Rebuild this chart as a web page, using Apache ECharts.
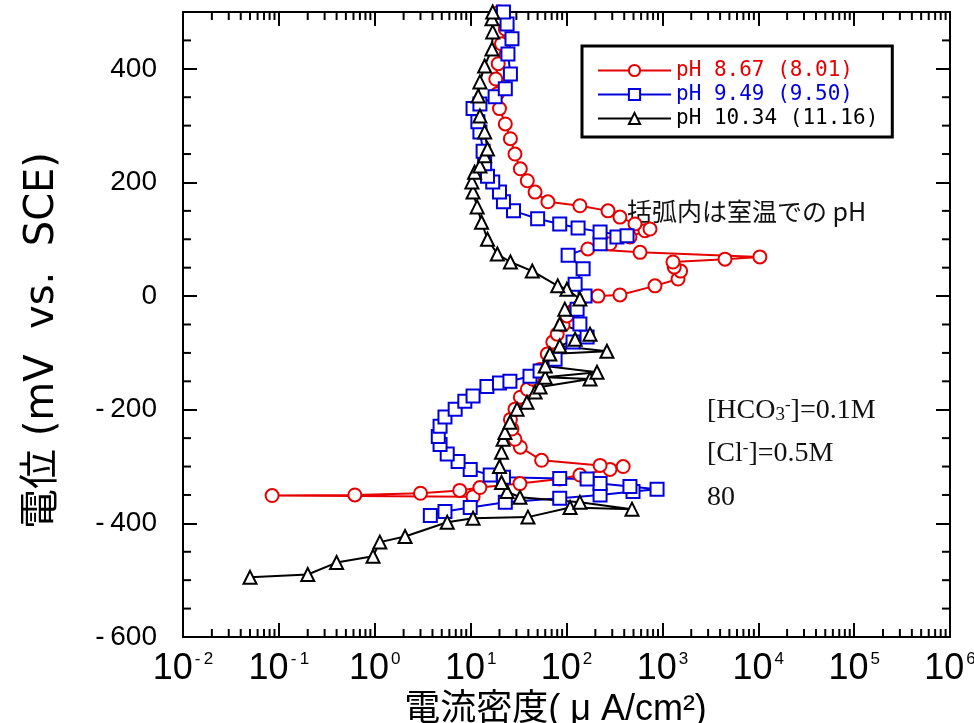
<!DOCTYPE html>
<html>
<head>
<meta charset="utf-8">
<script src="https://cdn.jsdelivr.net/npm/echarts@6/dist/echarts.min.js"></script>
<style>
    html, body { margin: 0; padding: 0; background: #fff; }
    #chart { width: 974px; height: 723px; }
</style>
</head>
<body>
<div id="chart"></div>
<script>
// 電流密度 (μA/cm2), 電位 (mV vs. SCE) — 各曲線は掃引順
var redPoints = [
    [10.6, -353], [0.085, -351], [0.62, -350], [3, -347], [7.7, -342], [12.5, -337], [32.7, -330],
    [85, -322], [138, -315], [284, -305], [390, -300], [224, -298], [55, -289], [33, -266],
    [29, -252], [27, -234], [26, -217], [29, -199], [33, -178], [39, -164], [44, -146], [53, -129],
    [63, -102], [72, -81], [80, -67], [92, -51], [101, -35], [123, -23], [213, 0], [361, 2],
    [837, 18], [1456, 30], [1550, 44], [1330, 51], [1290, 60], [4500, 65], [10400, 69], [585, 77],
    [167, 83], [284, 92], [459, 104], [659, 115], [743, 118], [518, 127], [361, 139], [271, 150],
    [138, 159], [64, 166], [47, 183], [39, 203], [33, 224], [29, 250], [26, 277], [23, 303],
    [20, 330], [19, 356], [18.3, 382], [19.4, 409], [21, 444], [23, 470], [21, 488], [20, 500]
];
var bluePoints = [
    [3.8, -386], [5.4, -379], [9.9, -372], [23, -363], [85, -356], [224, -350], [494, -344],
    [880, -340], [459, -335], [224, -330], [164, -322], [85, -321], [22, -319], [16, -315],
    [9.9, -305], [7.4, -291], [5.7, -278], [4.8, -261], [4.6, -247], [4.8, -229], [5.4, -213],
    [6.9, -199], [8.7, -185], [10.6, -176], [14.8, -159], [20, -153], [25.7, -150], [41.6, -141],
    [53, -132], [76, -111], [117, -81], [164, -72], [138, -49], [129, -23], [156, 0], [123, 21],
    [149, 48], [104, 72], [224, 92], [336, 104], [428, 106], [224, 113], [132, 120], [85, 127],
    [50, 136], [28, 150], [22, 166], [20, 183], [17, 201], [15, 211], [14, 233], [13.5, 255],
    [12.5, 289], [11.9, 307], [10.6, 330], [12.5, 338], [18, 351], [23, 365], [26, 391],
    [24.5, 426], [27, 453], [24, 479], [22, 500]
];
var blackPoints = [
    [0.05, -495], [0.2, -490], [0.4, -469], [0.96, -458], [1.13, -433], [2.07, -423], [5.7, -398],
    [10.6, -391], [39.6, -389], [109, -372], [482, -375], [138, -363], [32.7, -354], [24, -344],
    [21, -328], [20, -300], [21, -275], [21.8, -252], [22.8, -240], [25.7, -222], [30.5, -199],
    [38.7, -187], [47, -169], [53, -160], [176, -146], [60, -143], [208, -134], [60, -123],
    [67, -102], [264, -97], [85, -88], [123, -76], [176, -67], [85, -49], [96, -23], [138, -5],
    [101, 12], [81, 18], [44, 44], [26, 60], [19, 74], [15, 100], [13, 130], [11.7, 157],
    [10.6, 183], [10.3, 201], [11, 218], [12.5, 229], [14, 247], [15, 259], [14, 289],
    [12.5, 317], [12, 352], [12.5, 377], [14, 405], [16.7, 435], [17, 465], [16.7, 488], [17, 500]
];
var seriesNames = ['pH 8.67 (8.01)', 'pH 9.49 (9.50)', 'pH 10.34 (11.16)'];
var seriesColors = ['#e60000', '#0000dd', '#000000'];
var seriesSymbols = ['emptyCircle', 'emptyRect', 'emptyTriangle'];

var xMin = 0.01, xMax = 1e6, yMin = -600, yMax = 500;

// 対数軸の副目盛 (2..9) と電位軸の 50 mV 目盛
var minorTicks = [];
for (var e = -2; e < 6; e++) {
    for (var k = 2; k < 10; k++) minorTicks.push([k * Math.pow(10, e), yMin, 0]);
}
for (var v = -550; v < yMax; v += 50) {
    if (v % 200 !== 0) minorTicks.push([xMin, v, 1]);
}

var myChart = echarts.init(document.getElementById('chart'));

function supLabel(value) {
    var p = Math.round(Math.log10(value));
    var s = p < 0 ? '-\u2009' + (-p) : '' + p;
    return '{b|10}{s|' + s + '}';
}

var curveSeries = [redPoints, bluePoints, blackPoints].map(function (pts, i) {
    return {
        name: seriesNames[i],
        type: 'line',
        xAxisIndex: 0,
        yAxisIndex: 0,
        data: pts,
        symbol: seriesSymbols[i],
        symbolSize: 13,
        showAllSymbol: true,
        color: seriesColors[i],
        lineStyle: { width: 2, color: seriesColors[i] },
        itemStyle: { color: seriesColors[i], borderWidth: 2 },
        emphasis: { disabled: true },
        animation: false
    };
});

var tickSeries = {
    type: 'custom',
    silent: true,
    data: minorTicks,
    renderItem: function (params, api) {
        var kind = api.value(2);
        var len = 8;
        var st = { stroke: '#000', lineWidth: 2 };
        if (kind === 0) {
            var x = api.value(0);
            var b = api.coord([x, yMin]);
            var t = api.coord([x, yMax]);
            return { type: 'group', children: [
                { type: 'line', shape: { x1: b[0], y1: b[1], x2: b[0], y2: b[1] - len }, style: st },
                { type: 'line', shape: { x1: t[0], y1: t[1], x2: t[0], y2: t[1] + len }, style: st }
            ] };
        }
        var y = api.value(1);
        var l = api.coord([xMin, y]);
        var r = api.coord([xMax, y]);
        return { type: 'group', children: [
            { type: 'line', shape: { x1: l[0], y1: l[1], x2: l[0] + len, y2: l[1] }, style: st },
            { type: 'line', shape: { x1: r[0], y1: r[1], x2: r[0] - len, y2: r[1] }, style: st }
        ] };
    },
    animation: false
};

var axisLine = { show: true, onZero: false, lineStyle: { color: '#000', width: 2 } };
var majorTick = { inside: true, length: 14, lineStyle: { color: '#000', width: 2 } };

var option = {
    backgroundColor: '#fff',
    animation: false,
    grid: { left: 183, right: 24, top: 12, bottom: 86, outerBoundsMode: 'none' },
    legend: {
        orient: 'vertical',
        left: 582, top: 46,
        padding: [14, 14, 8, 15],
        itemGap: 3,
        itemWidth: 73,
        itemHeight: 14,
        backgroundColor: '#fff',
        borderColor: '#000',
        borderWidth: 3,
        borderRadius: 0,
        selectedMode: false,
        textStyle: { fontFamily: 'DejaVu Sans Mono', fontSize: 21, lineHeight: 21 },
        data: seriesNames.map(function (n, i) {
            return { name: n, textStyle: { color: seriesColors[i] } };
        })
    },
    xAxis: [{
        type: 'log', logBase: 10, min: xMin, max: xMax, splitNumber: 8,
        position: 'bottom',
        axisLine: axisLine,
        axisTick: majorTick,
        splitLine: { show: false },
        axisLabel: {
            margin: 14, color: '#000', formatter: supLabel,
            rich: {
                b: { fontFamily: 'Liberation Sans', fontSize: 36, color: '#000' },
                s: { fontFamily: 'Liberation Sans', fontSize: 17, color: '#000', verticalAlign: 'top', padding: [0, 0, 0, 2] }
            }
        },
        name: '電流密度( μ A/cm²)',
        nameLocation: 'middle', nameGap: 34,
        nameTextStyle: { fontFamily: 'Liberation Sans, Noto Sans CJK JP', fontSize: 36, color: '#000', padding: [0, 22, 0, 0] }
    }, {
        type: 'log', logBase: 10, min: xMin, max: xMax, splitNumber: 8,
        position: 'top',
        axisLine: axisLine,
        axisTick: majorTick,
        splitLine: { show: false },
        axisLabel: { show: false }
    }],
    yAxis: [{
        type: 'value', min: yMin, max: yMax, interval: 200,
        position: 'left',
        axisLine: axisLine,
        axisTick: majorTick,
        splitLine: { show: false },
        axisLabel: {
            margin: 26, color: '#000', fontFamily: 'Liberation Sans', fontSize: 28, showMaxLabel: false,
            formatter: function (v) { return v === yMax ? '' : (v < 0 ? '-\u2009' + (-v) : '' + v); }
        },
        name: '電位 (mV  vs.  SCE)',
        nameLocation: 'middle', nameGap: 120, nameRotate: 90,
        nameTextStyle: { fontFamily: 'DejaVu Sans, Noto Sans CJK JP', fontSize: 40, color: '#000', padding: [0, 32, 0, 0] }
    }, {
        type: 'value', min: yMin, max: yMax, interval: 200,
        position: 'right',
        axisLine: axisLine,
        axisTick: majorTick,
        splitLine: { show: false },
        axisLabel: { show: false }
    }],
    graphic: [
        { type: 'text', left: 627, top: 199, style: { text: '括弧内は室温での pH', font: '25px "Noto Sans CJK JP"', fill: '#111' } },
        { type: 'text', left: 707, top: 397, style: {
            text: '[HCO{sub|3}{sup|-}]=0.1M', font: '28px "Liberation Serif"', fill: '#111',
            rich: {
                sub: { font: '19px "Liberation Serif"', fill: '#111', verticalAlign: 'bottom' },
                sup: { font: '17px "Liberation Serif"', fill: '#111', verticalAlign: 'top' }
            }
        } },
        { type: 'text', left: 707, top: 440, style: {
            text: '[Cl{sup|-}]=0.5M', font: '28px "Liberation Serif"', fill: '#111',
            rich: { sup: { font: '17px "Liberation Serif"', fill: '#111', verticalAlign: 'top' } }
        } },
        { type: 'text', left: 707, top: 484, style: { text: '80', font: '28px "Liberation Serif"', fill: '#111' } }
    ],
    series: curveSeries.concat([tickSeries])
};

myChart.setOption(option);
</script>
</body>
</html>
